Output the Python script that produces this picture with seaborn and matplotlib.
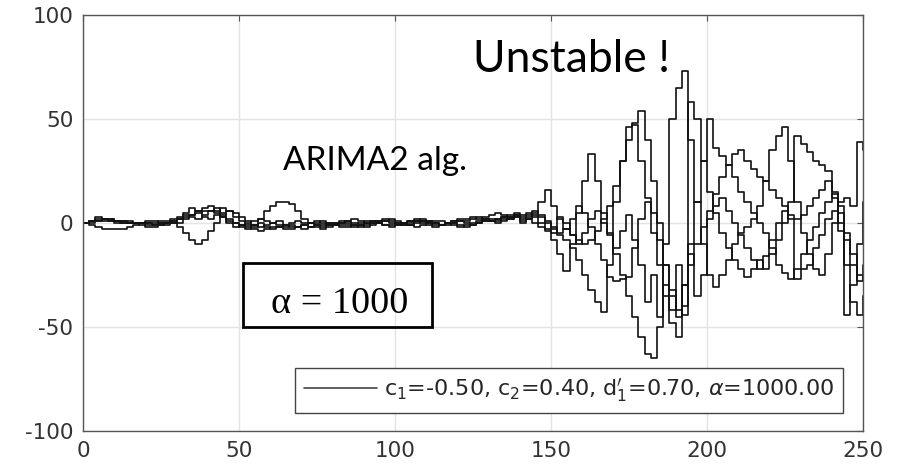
import numpy as np
import pandas as pd
import seaborn as sns
import matplotlib.pyplot as plt
from matplotlib.lines import Line2D
from matplotlib.patches import Rectangle

# time axis, one sample every 2 steps
t = np.arange(0, 252, 2)

# five runs of the ARIMA2 estimate
run_a = [0, 1, 1, 2, 2, 1, 1, 0, 0, 0,
         0, -1, -1, 0, 1, 2, 3, 4, 5, 6,
         6, 5, 3, 1, 0, -1, -2, -1, 2, 6,
         8, 10, 10, 9, 6, 2, 0, -1, -2, -1,
         0, -1, -1, -2, -1, 0, 1, 0, -1, -2,
         -1, 0, 1, 1, 0, -1, -2, -1, 0, 1,
         1, 0, -1, 0, 1, 1, 2, 3, 3, 4,
         2, 3, 5, 10, 16, 8, 2, -3, -6, -8,
         -10, -8, -4, 2, 8, 18, 30, 46, 47, 30,
         12, -5, -20, -35, -48, -55, -40, -20, -10, -2,
         6, 14, 22, 28, 33, 35, 30, 26, 22, 20,
         16, 12, 8, 4, 2, 4, 8, 12, 16, 20,
         12, 5, -5, -15, -25, -28]
run_b = [0, 1, 2, 2, 2, 1, 1, 1, 0, 0,
         -1, -1, 0, 0, 0, -2, -5, -8, -10, -8,
         -4, 0, 4, 6, 5, 3, 1, -1, -2, -1,
         0, 1, -1, -2, -2, -1, 0, 0, 1, 0,
         -1, -2, -2, -1, 0, 1, 1, 0, -1, -1,
         0, 0, 1, 2, 1, 0, -1, -1, 0, 0,
         -1, -2, -1, 0, 1, 2, 2, 3, 4, 3,
         1, 2, 0, -2, -4, -8, -15, -23, -10, 5,
         20, 33, 20, 5, -5, -15, -25, -35, -45, -55,
         -63, -65, -50, -10, 50, 65, 73, 40, 10, -10,
         -25, -31, -25, -18, -10, -5, -2, 2, 8, 20,
         35, 42, 46, 30, 10, -5, -15, -22, -25, -15,
         0, 10, 12, 8, 39, 35]
run_c = [0, -1, -2, -3, -3, -3, -3, -2, -1, 0,
         1, 1, 0, -1, 0, 2, 5, 7, 6, 3,
         2, 4, 7, 6, 3, 1, -1, -3, -4, -3,
         -2, -2, -3, -3, -2, -1, 0, 1, 0, -1,
         -1, 0, 1, 2, 1, 0, 0, 1, 2, 1,
         0, -1, -1, 0, 1, 1, 0, -1, -1, 0,
         1, 1, 2, 3, 2, 1, 0, 1, 3, 5,
         3, 4, 6, 4, 0, -3, -6, -8, -12, -18,
         -25, -32, -38, -43, -20, 10, 30, 40, 48, 54,
         40, 20, 0, -20, -35, -45, -30, 58, 50, 30,
         15, 5, -5, -12, -18, -22, -26, -22, -18, -22,
         -15, -8, 0, 10, 42, 38, 34, 30, 28, 25,
         15, 0, -20, -38, -44, -35]
run_d = [0, 0, 1, 1, 1, 1, 0, 0, 0, -1,
         -2, -2, -1, 0, 2, 3, 4, 3, 2, 4,
         6, 7, 5, 2, 0, -2, -3, -2, 0, -2,
         -3, -2, -1, 0, 1, 0, -2, -2, -3, -2,
         -1, 0, 1, 0, -1, -2, -1, 0, 1, 2,
         1, 0, -1, -2, -1, 0, 1, 1, 0, -1,
         -2, -1, 0, 1, 2, 1, 1, 2, 2, 3,
         0, 2, 4, 3, 1, -2, -5, -3, 2, 8,
         5, -2, -10, -18, -26, -28, -27, -26, -12, 2,
         10, 5, -8, -20, -32, -42, -30, -10, 10, 30,
         50, 36, 32, 28, 22, 15, 10, 5, 0, -5,
         -12, -20, -24, -27, -22, -15, -8, -2, 5, 10,
         14, 8, -8, -20, -28, -20]
run_e = [0, 1, 3, 2, 1, 0, 0, 0, 0, 0,
         0, 0, 1, 1, 1, 0, 2, 4, 6, 7,
         8, 6, 3, 0, -2, -1, 0, 1, 2, 1,
         0, -1, -2, -1, -2, -3, -2, -1, -1, 0,
         0, 1, 0, -1, -2, -1, 0, 1, 1, 0,
         -1, -1, 0, 1, 2, 1, 0, -1, 0, 1,
         2, 2, 3, 2, 3, 4, 5, 4, 2, 4,
         4, 5, 3, 0, -3, -5, 3, 0, -6, -10,
         -5, 2, 6, 0, -6, -12, -4, 4, -8, -20,
         -38, -25, -45, -30, -42, -20, -44, -15, -35, -25,
         2, 8, 12, 6, 0, -6, -12, -18, -22, -16,
         -8, 0, 6, 2, -27, -22, -20, -12, -6, 2,
         6, -4, -44, -30, -10, 10]

runs = {'a': run_a, 'b': run_b, 'c': run_c, 'd': run_d, 'e': run_e}
df = pd.concat([pd.DataFrame({'t': t, 'value': v, 'run': k}) for k, v in runs.items()])

legend_label = r"c$_1$=-0.50, c$_2$=0.40, d$^{\prime}_1$=0.70, $\alpha$=1000.00"

sns.set_style('white')
plt.rcParams['font.family'] = ['DejaVu Sans']
plt.rcParams['axes.unicode_minus'] = False
plt.rcParams['mathtext.fontset'] = 'dejavusans'

fig = plt.figure(figsize=(8.97, 4.76), dpi=100)
ax = fig.add_axes([0.0925, 0.0945, 0.8695, 0.874])

sns.lineplot(data=df, x='t', y='value', units='run', estimator=None,
             drawstyle='steps-post', color='#111111', lw=1.2, ax=ax, legend=False)

ax.set_xlim(0, 250)
ax.set_ylim(-100, 100)
ax.set_xticks([0, 50, 100, 150, 200, 250])
ax.set_yticks([-100, -50, 0, 50, 100])
ax.set_xlabel('')
ax.set_ylabel('')
ax.grid(True, color='#e3e3e3', lw=1.0)
ax.set_axisbelow(True)
for s in ax.spines.values():
    s.set_color('#555555')
    s.set_linewidth(1.0)
ax.tick_params(direction='in', top=True, right=True, length=4, color='#555555',
               labelsize=15.5, labelcolor='#333333', pad=7)

ax.legend([Line2D([0], [0], color='#444444', lw=1.2)], [legend_label],
          loc='lower right', bbox_to_anchor=(0.974, 0.043), borderaxespad=0,
          fontsize=16, fancybox=False, framealpha=1, edgecolor='#444444',
          handlelength=3.3, handletextpad=0.3, borderpad=0.4)

ax.text(125, 72.6, 'Unstable !', family='Lato', fontsize=32, color='black',
        ha='left', va='baseline')
ax.text(64.1, 25.5, 'ARIMA2 alg.', family='Lato', fontsize=24, color='black',
        ha='left', va='baseline')
ax.add_patch(Rectangle((51.3, -50), 60.6, 30.8, fill=False, edgecolor='black',
                       lw=2, zorder=5))
ax.text(82.3, -43.4, 'α = 1000', family='Liberation Serif', fontsize=27.5,
        color='black', ha='center', va='baseline', zorder=6)

fig.savefig('out.png', dpi=100)
